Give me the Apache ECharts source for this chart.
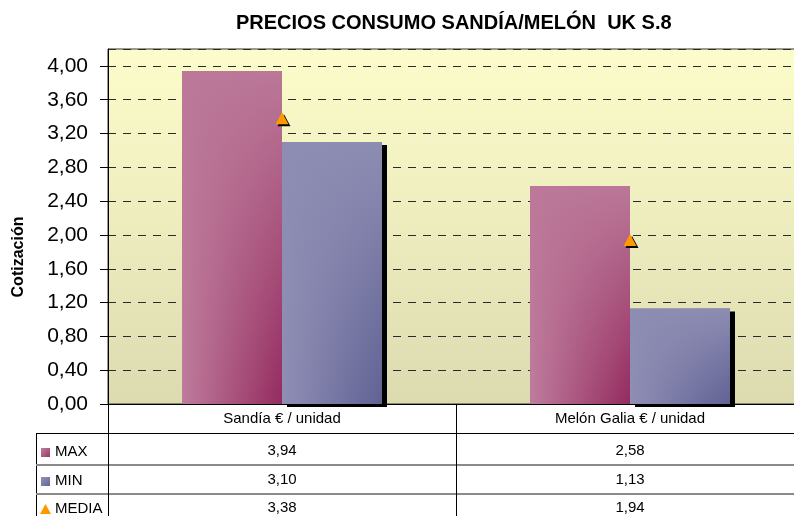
<!DOCTYPE html>
<html>
<head>
<meta charset="utf-8">
<script src="https://cdn.jsdelivr.net/npm/echarts@6/dist/echarts.min.js"></script>
<style>
  html, body { margin: 0; padding: 0; background: #fff; }
  #chart { width: 794px; height: 516px; }
</style>
</head>
<body>
<div id="chart"></div>
<script>
const categories = ["Sandía € / unidad", "Melón Galia € / unidad"];
const seriesNames = ["MAX", "MIN", "MEDIA"];
const maxValues = [3.94, 2.58];
const minValues = [3.10, 1.13];
const mediaValues = [3.38, 1.94];

const FONT = "Liberation Sans, Arial, sans-serif";
const fmt = (v) => v.toFixed(2).replace(".", ",");

const grad = (x2, y2, c0, c1) =>
  new echarts.graphic.LinearGradient(0, 0, x2, y2, [
    { offset: 0, color: c0 },
    { offset: 1, color: c1 },
  ]);

// base fill runs light -> dark left to right, a fading overlay lightens the top
const maxBase = grad(1, 0, "#be7c9c", "#942b5f");
const minBase = grad(1, 0, "#8f8fb5", "#616194");
const maxOver = grad(0, 1, "rgba(187,120,152,1)", "rgba(187,120,152,0)");
const minOver = grad(0, 1, "rgba(141,141,179,1)", "rgba(141,141,179,0)");

const chart = echarts.init(document.getElementById("chart"), null, { renderer: "canvas" });

const rowAxis = (offset, values) => ({
  type: "category",
  data: categories,
  position: "bottom",
  offset: offset,
  axisLine: { show: false },
  axisTick: { show: false },
  axisLabel: {
    interval: 0,
    margin: 7,
    fontSize: 15,
    color: "#000",
    fontFamily: FONT,
    formatter: (v, i) => fmt(values[i]),
  },
});

chart.setOption({
  animation: false,
  title: {
    text: "PRECIOS CONSUMO SANDÍA/MELÓN  UK S.8",
    left: 236,
    top: 13,
    padding: 0,
    textStyle: { fontSize: 20, fontWeight: "bold", color: "#000", fontFamily: FONT },
  },
  grid: {
    left: 108,
    top: 49,
    width: 696,
    bottom: 112,
    outerBoundsMode: "none",
    show: true,
    borderColor: "#333",
    borderWidth: 1,
    backgroundColor: grad(0, 1, "#fdfdcb", "#dcdbb0"),
  },
  xAxis: [
    {
      type: "category",
      data: categories,
      position: "bottom",
      axisLine: { lineStyle: { color: "#000", width: 1 } },
      axisTick: { show: true, alignWithLabel: false, length: 112, lineStyle: { color: "#000" } },
      axisLabel: { interval: 0, margin: 7, fontSize: 15, color: "#000", fontFamily: FONT },
    },
    rowAxis(32, maxValues),
    rowAxis(61, minValues),
    rowAxis(89, mediaValues),
  ],
  yAxis: {
    type: "value",
    min: 0,
    max: 4.2,
    interval: 0.4,
    axisLine: { show: true, lineStyle: { color: "#000" } },
    axisTick: { show: true, length: 8, lineStyle: { color: "#000" } },
    axisLabel: {
      showMaxLabel: false,
      margin: 20,
      fontSize: 21,
      color: "#000",
      fontFamily: FONT,
      formatter: (v) => fmt(v),
    },
    splitLine: { lineStyle: { color: "#2a2a2a", type: [8, 7], width: 1 } },
  },
  series: [
    {
      name: seriesNames[0],
      type: "bar",
      data: maxValues,
      barWidth: 100,
      barGap: "0%",
      itemStyle: { color: maxBase },
    },
    {
      name: seriesNames[1],
      type: "bar",
      data: minValues,
      barWidth: 100,
      barGap: "0%",
      itemStyle: {
        color: minBase,
        shadowColor: "#000",
        shadowOffsetX: 5,
        shadowOffsetY: 3,
        shadowBlur: 0,
      },
    },
    {
      name: seriesNames[0] + " shade",
      type: "bar",
      xAxisIndex: 1,
      data: maxValues,
      barWidth: 100,
      barGap: "0%",
      silent: true,
      itemStyle: { color: maxOver },
    },
    {
      name: seriesNames[1] + " shade",
      type: "bar",
      xAxisIndex: 1,
      data: minValues,
      barWidth: 100,
      barGap: "0%",
      silent: true,
      itemStyle: { color: minOver },
    },
    {
      name: seriesNames[2],
      type: "scatter",
      data: mediaValues,
      symbol: "triangle",
      symbolSize: [13, 12],
      z: 5,
      itemStyle: {
        color: "#ff9900",
        opacity: 1,
        shadowColor: "#000",
        shadowOffsetX: 2,
        shadowOffsetY: 2,
        shadowBlur: 0,
      },
    },
  ],
  graphic: [
    {
      type: "text",
      x: 19,
      y: 257,
      rotation: Math.PI / 2,
      style: {
        text: "Cotización",
        font: "bold 16px " + FONT,
        fill: "#000",
        align: "center",
        verticalAlign: "middle",
      },
    },
    // data table rules
    { type: "line", shape: { x1: 36, y1: 433.5, x2: 794, y2: 433.5 }, style: { stroke: "#000", lineWidth: 1 } },
    { type: "line", shape: { x1: 36.5, y1: 433, x2: 36.5, y2: 516 }, style: { stroke: "#000", lineWidth: 1 } },
    { type: "line", shape: { x1: 36, y1: 465, x2: 794, y2: 465 }, style: { stroke: "#8a8a8a", lineWidth: 2 } },
    { type: "line", shape: { x1: 36, y1: 494, x2: 794, y2: 494 }, style: { stroke: "#8a8a8a", lineWidth: 2 } },
    // legend keys
    { type: "rect", shape: { x: 41, y: 448, width: 9, height: 9 }, style: { fill: grad(1, 1, "#c07f9f", "#9a3767") } },
    { type: "rect", shape: { x: 41, y: 477, width: 9, height: 9 }, style: { fill: grad(1, 1, "#9191b6", "#676799") } },
    { type: "polygon", shape: { points: [[45.5, 504], [51, 514], [40, 514]] }, style: { fill: "#ff9900" } },
    { type: "text", x: 55, y: 452, style: { text: seriesNames[0], font: "15px " + FONT, fill: "#000", verticalAlign: "middle" } },
    { type: "text", x: 55, y: 481, style: { text: seriesNames[1], font: "15px " + FONT, fill: "#000", verticalAlign: "middle" } },
    { type: "text", x: 55, y: 509, style: { text: seriesNames[2], font: "15px " + FONT, fill: "#000", verticalAlign: "middle" } },
  ],
});
</script>
</body>
</html>
